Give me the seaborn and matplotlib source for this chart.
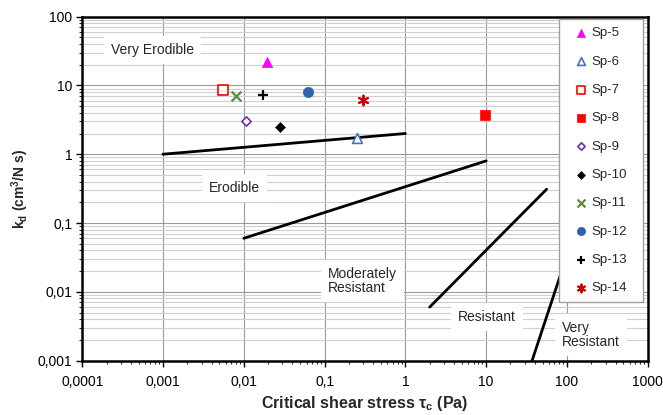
import numpy as np
import pandas as pd
import matplotlib
matplotlib.use("Agg")
import matplotlib.pyplot as plt
import matplotlib.ticker as mticker
import seaborn as sns

# ---------------- data ----------------
samples = ["Sp-5", "Sp-6", "Sp-7", "Sp-8", "Sp-9", "Sp-10", "Sp-11", "Sp-12", "Sp-13", "Sp-14"]
tau_c = [0.0195, 0.25, 0.0055, 9.7, 0.0108, 0.028, 0.0081, 0.062, 0.0175, 0.30]
k_d = [21.6, 1.7, 8.5, 3.7, 3.0, 2.48, 6.97, 8.15, 7.37, 6.04]

# boundary lines between erodibility classes
boundary_x = [[0.001, 1.0], [0.01, 10.0], [2.0, 56.0], [37.0, 100.0]]
boundary_y = [[1.0, 2.0], [0.06, 0.8], [0.006, 0.31], [0.001, 0.034]]

region_labels = ["Very Erodible", "Erodible", "Moderately\nResistant", "Resistant", "Very\nResistant"]

xtick_vals = [1e-4, 1e-3, 1e-2, 1e-1, 1, 10, 100, 1000]
xtick_labels = ["0,0001", "0,001", "0,01", "0,1", "1", "10", "100", "1000"]
ytick_vals = [1e-3, 1e-2, 1e-1, 1, 10, 100]
ytick_labels = ["0,001", "0,01", "0,1", "1", "10", "100"]

# ---------------- style ----------------
sns.set_theme(style="white")
plt.rcParams["font.family"] = ["Liberation Sans", "DejaVu Sans"]
plt.rcParams["mathtext.fontset"] = "custom"
plt.rcParams["mathtext.rm"] = "Liberation Sans"
plt.rcParams["mathtext.bf"] = "Liberation Sans:bold"
plt.rcParams["mathtext.it"] = "Liberation Sans:italic"

fig = plt.figure(figsize=(6.63, 4.15), dpi=100)
ax = fig.add_axes([0.124, 0.131, 0.853, 0.829])

# marker styles: (marker, size, facecolor, edgecolor, linewidth)
styles = {
    "Sp-5": ("^", 55, "#FF00FF", "#FF00FF", 0.5),
    "Sp-6": ("^", 50, "white", "#4472C4", 1.2),
    "Sp-7": ("s", 50, "white", "#FF0000", 1.2),
    "Sp-8": ("s", 60, "#FF0000", "#FF0000", 0.5),
    "Sp-9": ("D", 22, "white", "#7030A0", 1.2),
    "Sp-10": ("D", 25, "black", "black", 0.5),
    "Sp-11": ("x", 50, "#5B8A3A", "#5B8A3A", 1.6),
    "Sp-12": ("o", 55, "#2E64AE", "#2E64AE", 0.5),
    "Sp-13": ("+", 45, "black", "black", 1.6),
    "Sp-14": ((6, 2, 0), 50, "#CC0000", "#CC0000", 1.4),
}

# boundary lines
for bx, by in zip(boundary_x, boundary_y):
    sns.lineplot(x=bx, y=by, color="black", linewidth=2.0, estimator=None,
                 sort=False, ax=ax, zorder=3)

df = pd.DataFrame({"sample": samples, "tau_c": tau_c, "k_d": k_d})
for name in samples:
    m, s, fc, ec, lw = styles[name]
    sub = df[df["sample"] == name]
    if m in ("x", "+") or isinstance(m, tuple):
        sns.scatterplot(data=sub, x="tau_c", y="k_d", marker=m, s=s, color=ec,
                        linewidth=lw, label=name, ax=ax, zorder=5)
    else:
        sns.scatterplot(data=sub, x="tau_c", y="k_d", marker=m, s=s, color=ec,
                        facecolor=fc, edgecolor=ec, linewidth=lw, label=name,
                        ax=ax, zorder=5)

ax.set_xscale("log")
ax.set_yscale("log")
ax.set_xlim(1e-4, 1000)
ax.set_ylim(1e-3, 100)

ax.set_xticks(xtick_vals)
ax.set_xticklabels(xtick_labels)
ax.set_yticks(ytick_vals)
ax.set_yticklabels(ytick_labels)
ax.xaxis.set_minor_locator(mticker.LogLocator(base=10, subs=np.arange(2, 10), numticks=20))
ax.yaxis.set_minor_locator(mticker.LogLocator(base=10, subs=np.arange(2, 10), numticks=20))
ax.xaxis.set_minor_formatter(mticker.NullFormatter())
ax.yaxis.set_minor_formatter(mticker.NullFormatter())
ax.tick_params(which="major", direction="out", length=4, width=1, labelsize=10,
               bottom=True, left=True, colors="black")
ax.tick_params(axis="x", which="major", pad=6)
ax.tick_params(axis="y", which="major", pad=3)
ax.tick_params(which="minor", direction="out", length=2, width=0.8,
               bottom=True, left=True)

ax.grid(which="major", axis="both", color="#9a9a9a", linewidth=0.8, zorder=0)
ax.grid(which="minor", axis="y", color="#cfcfcf", linewidth=0.8, zorder=0)
ax.set_axisbelow(True)

for sp in ax.spines.values():
    sp.set_color("black")
    sp.set_linewidth(1.8)

ax.set_xlabel(r"Critical shear stress τ$_\mathbf{c}$ (Pa)", fontsize=11.5,
              fontweight="bold", labelpad=4)
ax.set_ylabel(r"k$_\mathbf{d}$ (cm$^\mathbf{3}$/N s)", fontsize=10,
              fontweight="bold", labelpad=5)

box = dict(facecolor="white", edgecolor="none", pad=5)
ax.text(0.1248, 0.903, region_labels[0], transform=ax.transAxes, ha="center",
        va="center", fontsize=10, bbox=box, zorder=4)
ax.text(0.2695, 0.502, region_labels[1], transform=ax.transAxes, ha="center",
        va="center", fontsize=10, bbox=box, zorder=4)
ax.text(0.435, 0.2317, region_labels[2], transform=ax.transAxes, ha="left",
        va="center", fontsize=10, bbox=box, zorder=4, linespacing=1.05)
ax.text(0.716, 0.127, region_labels[3], transform=ax.transAxes, ha="center",
        va="center", fontsize=10, bbox=box, zorder=4)
ax.text(0.848, 0.0747, region_labels[4], transform=ax.transAxes, ha="left",
        va="center", fontsize=10, bbox=box, zorder=4, linespacing=1.05)

leg = ax.legend(loc="upper left", bbox_to_anchor=(0.843, 0.9924, 0.149, 0),
                mode="expand", borderaxespad=0, fontsize=9.5, labelspacing=1.22,
                handlelength=2.1, handletextpad=-0.25, borderpad=0.6,
                markerscale=0.8, fancybox=False, framealpha=1, edgecolor="#a0a0a0")
leg.get_frame().set_linewidth(1.0)
leg.set_zorder(10)

fig.savefig("out.png", dpi=100)
